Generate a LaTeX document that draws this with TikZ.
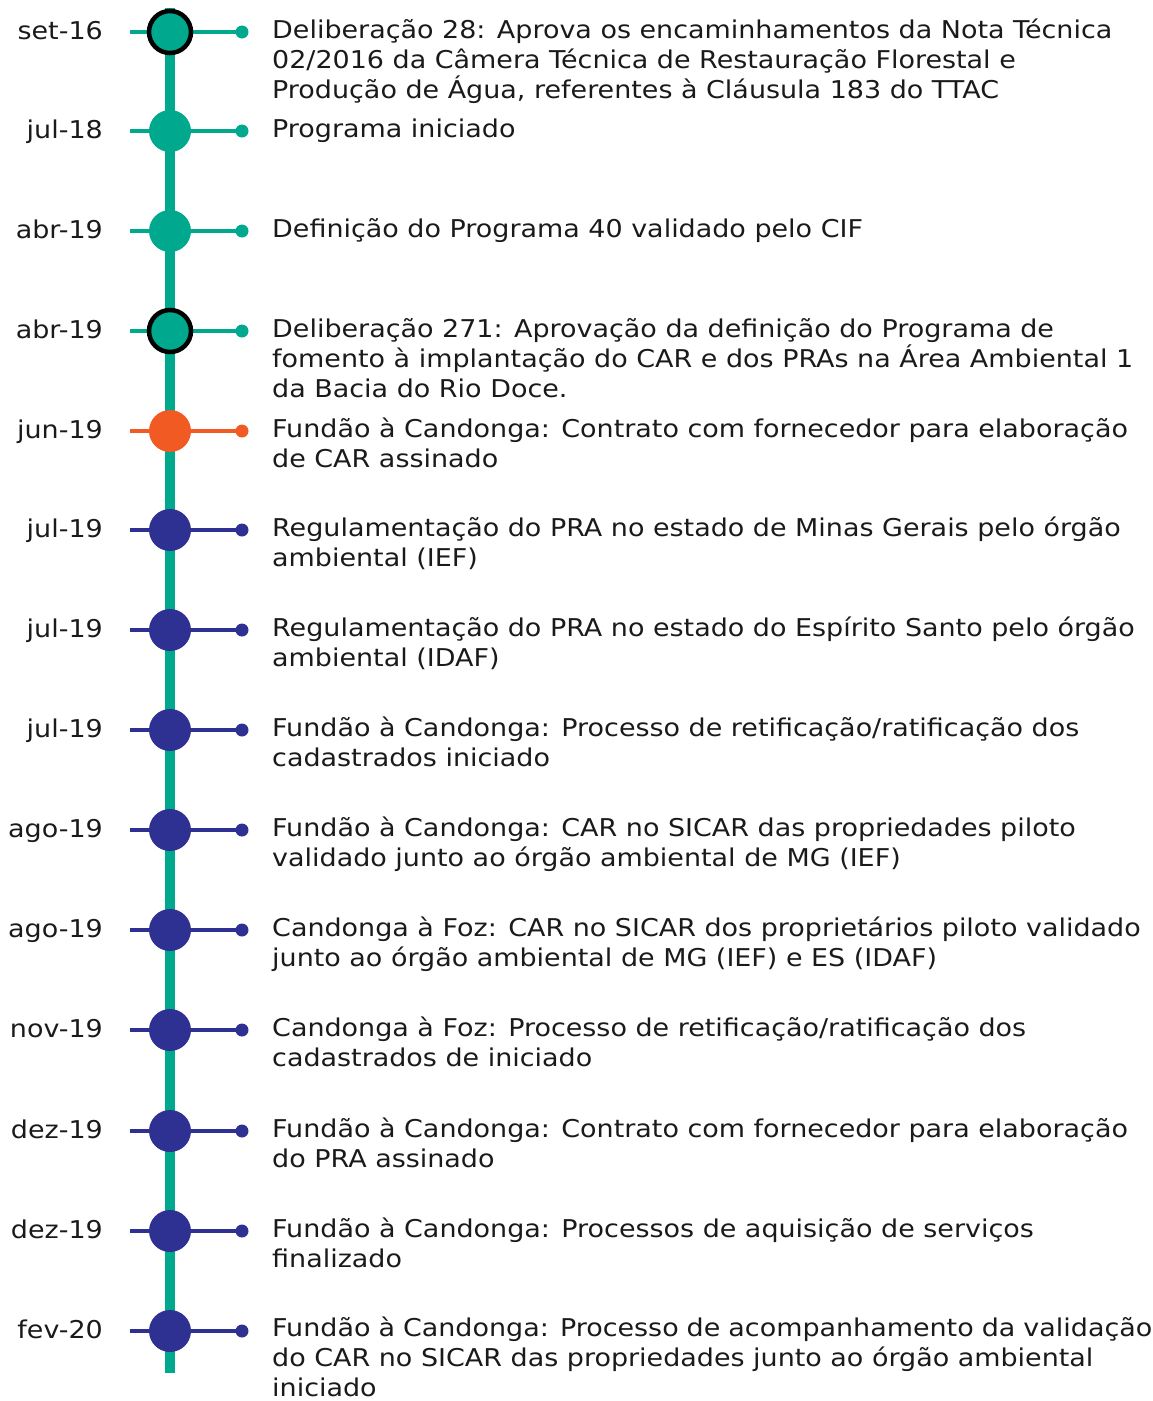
\documentclass[tikz,border=0pt]{standalone}
\usepackage{fontspec}
\setmainfont{DejaVu Sans}[FakeStretch=1.1]
\usepackage{xcolor}
\usetikzlibrary{positioning}

\definecolor{teal}{RGB}{0,168,142}
\definecolor{orange}{RGB}{241,90,34}
\definecolor{navy}{RGB}{46,49,146}
\definecolor{ink}{RGB}{26,26,26}

\begin{document}
\begin{tikzpicture}[
    x=1pt, y=-1pt,
    axis/.style={draw=teal, line width=10pt},
    stem/.style={line width=4pt},
    dot/.style={circle, inner sep=0pt, minimum size=42pt},
    ring/.style={circle, inner sep=0pt, minimum size=42pt, draw=black, line width=4.5pt},
    date/.style={anchor=base east, inner sep=0pt, text=ink, font=\fontsize{24.5}{30.2}\selectfont},
    desc/.style={anchor=base west, inner sep=0pt, text=ink, font=\fontsize{24.5}{30.2}\selectfont}
]
\useasboundingbox (0,0) rectangle (1152,1401);

% timeline axis
\coordinate (top) at (170,8);
\coordinate (bot) at (170,1373);
\draw[axis] (top) -- (bot);

% events
\foreach \n/\y/\d/\c in {1/32/set-16/teal, 2/131/jul-18/teal, 3/231/abr-19/teal,
    4/331/abr-19/teal, 5/431/jun-19/orange, 6/530/jul-19/navy, 7/630/jul-19/navy,
    8/730/jul-19/navy, 9/830/ago-19/navy, 10/930/ago-19/navy, 11/1030/nov-19/navy,
    12/1131/dez-19/navy, 13/1231/dez-19/navy, 14/1331/fev-20/navy} {
  \coordinate (s\n) at (130,\y);
  \coordinate (t\n) at (242,\y);
  \draw[stem, draw=\c] (s\n) -- (t\n);
  \fill[\c] (t\n) circle (6.5);
  \node[dot, fill=\c] (e\n) at (170,\y) {};
  \node[date] (d\n) at (103,\y+7) {\d};
}
\node[ring, fill=teal] at (e1) {};
\node[ring, fill=teal] at (e4) {};

% descriptions
\node[desc] (x1) at (272,38) {\parbox[t]{880pt}{\raggedright Deliberação 28: Aprova os encaminhamentos da Nota Técnica\\02/2016 da Câmera Técnica de Restauração Florestal e\\Produção de Água, referentes à Cláusula 183 do TTAC}};
\node[desc] (x2) at (272,137) {Programa iniciado};
\node[desc] (x3) at (272,237) {Definição do Programa 40 validado pelo CIF};
\node[desc] (x4) at (272,337) {\parbox[t]{880pt}{\raggedright Deliberação 271: Aprovação da definição do Programa de\\fomento à implantação do CAR e dos PRAs na Área Ambiental 1\\da Bacia do Rio Doce.}};
\node[desc] (x5) at (272,437) {\parbox[t]{880pt}{\raggedright Fundão à Candonga: Contrato com fornecedor para elaboração\\de CAR assinado}};
\node[desc] (x6) at (272,536) {\parbox[t]{880pt}{\raggedright Regulamentação do PRA no estado de Minas Gerais pelo órgão\\ambiental (IEF)}};
\node[desc] (x7) at (272,636) {\parbox[t]{880pt}{\raggedright Regulamentação do PRA no estado do Espírito Santo pelo órgão\\ambiental (IDAF)}};
\node[desc] (x8) at (272,736) {\parbox[t]{880pt}{\raggedright Fundão à Candonga: Processo de retificação/ratificação dos\\cadastrados iniciado}};
\node[desc] (x9) at (272,836) {\parbox[t]{880pt}{\raggedright Fundão à Candonga: CAR no SICAR das propriedades piloto\\validado junto ao órgão ambiental de MG (IEF)}};
\node[desc] (x10) at (272,936) {\parbox[t]{880pt}{\raggedright Candonga à Foz: CAR no SICAR dos proprietários piloto validado\\junto ao órgão ambiental de MG (IEF) e ES (IDAF)}};
\node[desc] (x11) at (272,1036) {\parbox[t]{880pt}{\raggedright Candonga à Foz: Processo de retificação/ratificação dos\\cadastrados de iniciado}};
\node[desc] (x12) at (272,1137) {\parbox[t]{880pt}{\raggedright Fundão à Candonga: Contrato com fornecedor para elaboração\\do PRA assinado}};
\node[desc] (x13) at (272,1237) {\parbox[t]{880pt}{\raggedright Fundão à Candonga: Processos de aquisição de serviços\\finalizado}};
\node[desc] (x14) at (272,1336) {\parbox[t]{880pt}{\raggedright Fundão à Candonga: Processo de acompanhamento da validação\\do CAR no SICAR das propriedades junto ao órgão ambiental\\iniciado}};
\end{tikzpicture}
\end{document}
